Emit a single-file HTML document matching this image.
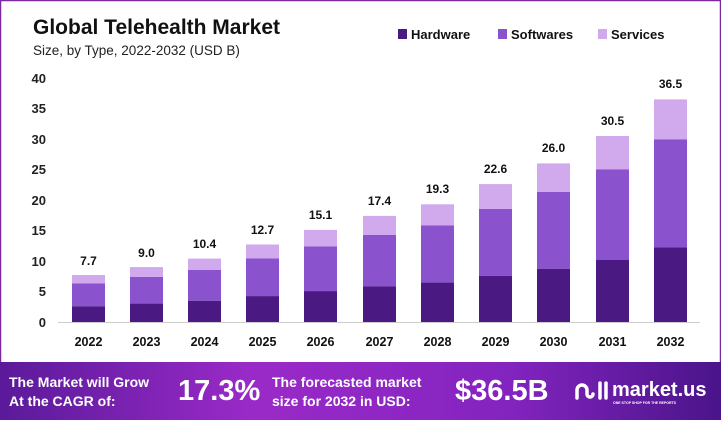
<!DOCTYPE html>
<html><head><meta charset="utf-8"><style>
body{margin:0;width:721px;height:420px;overflow:hidden;font-family:"Liberation Sans",sans-serif;background:#fff}
</style></head><body>
<svg width="721" height="420" xmlns="http://www.w3.org/2000/svg" font-family="Liberation Sans, sans-serif">
<defs><linearGradient id="g" x1="0" x2="1"><stop offset="0" stop-color="#5a1a9a"/><stop offset="0.35" stop-color="#9a2ac8"/><stop offset="0.7" stop-color="#8424c0"/><stop offset="1" stop-color="#4a148a"/></linearGradient></defs>
<rect x="0.5" y="0.5" width="720" height="419" fill="#fff" stroke="#7b2a9e" stroke-width="1.5"/>
<text x="33" y="34" font-size="21" font-weight="bold" fill="#111">Global Telehealth Market</text>
<text x="33" y="55" font-size="13.5" fill="#222">Size, by Type, 2022-2032 (USD B)</text>
<g font-size="13" font-weight="bold" fill="#111">
<rect x="398" y="29" width="9" height="10" fill="#4a1a82"/><text x="411" y="39">Hardware</text>
<rect x="498" y="29" width="9" height="10" fill="#8a52cc"/><text x="511" y="39">Softwares</text>
<rect x="598" y="29" width="9" height="10" fill="#d0aaec"/><text x="611" y="39">Services</text>
</g>
<g font-size="13" font-weight="bold" fill="#222" text-anchor="end">
<text x="46" y="83">40</text><text x="46" y="113">35</text><text x="46" y="144">30</text><text x="46" y="174">25</text><text x="46" y="205">20</text><text x="46" y="235">15</text><text x="46" y="266">10</text><text x="46" y="296">5</text><text x="46" y="327">0</text>
</g>
<line x1="58" y1="322.5" x2="700" y2="322.5" stroke="#ccc"/>
<g id="bars">
<!-- x, total top, sw top, hw top -->
</g>
<g>
<rect x="72" y="275" width="33" height="8.5" fill="#d0aaec"/><rect x="72" y="283.5" width="33" height="22.8" fill="#8a52cc"/><rect x="72" y="306.3" width="33" height="15.7" fill="#4a1a82"/>
<rect x="130" y="267.1" width="33" height="9.9" fill="#d0aaec"/><rect x="130" y="277" width="33" height="26.6" fill="#8a52cc"/><rect x="130" y="303.6" width="33" height="18.4" fill="#4a1a82"/>
<rect x="188" y="258.6" width="33" height="11.4" fill="#d0aaec"/><rect x="188" y="270" width="33" height="30.8" fill="#8a52cc"/><rect x="188" y="300.8" width="33" height="21.2" fill="#4a1a82"/>
<rect x="246" y="244.5" width="33" height="14" fill="#d0aaec"/><rect x="246" y="258.5" width="33" height="37.6" fill="#8a52cc"/><rect x="246" y="296.1" width="33" height="25.9" fill="#4a1a82"/>
<rect x="304" y="229.9" width="33" height="16.6" fill="#d0aaec"/><rect x="304" y="246.5" width="33" height="44.6" fill="#8a52cc"/><rect x="304" y="291.1" width="33" height="30.9" fill="#4a1a82"/>
<rect x="363" y="215.9" width="33" height="19.1" fill="#d0aaec"/><rect x="363" y="235" width="33" height="51.4" fill="#8a52cc"/><rect x="363" y="286.4" width="33" height="35.6" fill="#4a1a82"/>
<rect x="421" y="204.3" width="33" height="21.2" fill="#d0aaec"/><rect x="421" y="225.5" width="33" height="57.1" fill="#8a52cc"/><rect x="421" y="282.6" width="33" height="39.4" fill="#4a1a82"/>
<rect x="479" y="184.1" width="33" height="24.9" fill="#d0aaec"/><rect x="479" y="209" width="33" height="66.8" fill="#8a52cc"/><rect x="479" y="275.8" width="33" height="46.2" fill="#4a1a82"/>
<rect x="537" y="163.4" width="33" height="28.6" fill="#d0aaec"/><rect x="537" y="192" width="33" height="76.9" fill="#8a52cc"/><rect x="537" y="268.9" width="33" height="53.1" fill="#4a1a82"/>
<rect x="596" y="136" width="33" height="33.4" fill="#d0aaec"/><rect x="596" y="169.4" width="33" height="90.3" fill="#8a52cc"/><rect x="596" y="259.7" width="33" height="62.3" fill="#4a1a82"/>
<rect x="654" y="99.4" width="33" height="40" fill="#d0aaec"/><rect x="654" y="139.4" width="33" height="108" fill="#8a52cc"/><rect x="654" y="247.4" width="33" height="74.6" fill="#4a1a82"/>
</g>
<g font-size="12" font-weight="bold" fill="#111" text-anchor="middle">
<text x="88.5" y="265">7.7</text><text x="146.5" y="257">9.0</text><text x="204.5" y="248">10.4</text><text x="262.5" y="234">12.7</text><text x="320.5" y="219">15.1</text><text x="379.5" y="205">17.4</text><text x="437.5" y="193">19.3</text><text x="495.5" y="173">22.6</text><text x="553.5" y="152">26.0</text><text x="612.5" y="125">30.5</text><text x="670.5" y="88">36.5</text>
</g>
<g font-size="12.5" font-weight="bold" fill="#111" text-anchor="middle">
<text x="88.5" y="346">2022</text><text x="146.5" y="346">2023</text><text x="204.5" y="346">2024</text><text x="262.5" y="346">2025</text><text x="320.5" y="346">2026</text><text x="379.5" y="346">2027</text><text x="437.5" y="346">2028</text><text x="495.5" y="346">2029</text><text x="553.5" y="346">2030</text><text x="612.5" y="346">2031</text><text x="670.5" y="346">2032</text>
</g>
<rect x="0" y="362" width="721" height="58" fill="url(#g)"/>
<g fill="#fff" font-weight="bold">
<text x="9" y="387" font-size="14">The Market will Grow</text>
<text x="9" y="406" font-size="14">At the CAGR of:</text>
<text x="178" y="400" font-size="29">17.3%</text>
<text x="272" y="387" font-size="14">The forecasted market</text>
<text x="272" y="406" font-size="14">size for 2032 in USD:</text>
<text x="455" y="400" font-size="29">$36.5B</text>
<text x="612" y="396" font-size="20">market.us</text>
<text x="613" y="404" font-size="3.5">ONE STOP SHOP FOR THE REPORTS</text>
</g>
<g fill="none" stroke="#fff" stroke-width="3.5" stroke-linecap="round">
<path d="M577 398 v-8 a5 5 0 0 1 10 0 v4 a3 3 0 0 0 6 0"/><line x1="600" y1="383" x2="600" y2="398"/><line x1="606" y1="383" x2="606" y2="398"/>
</g>
</svg>
</body></html>
